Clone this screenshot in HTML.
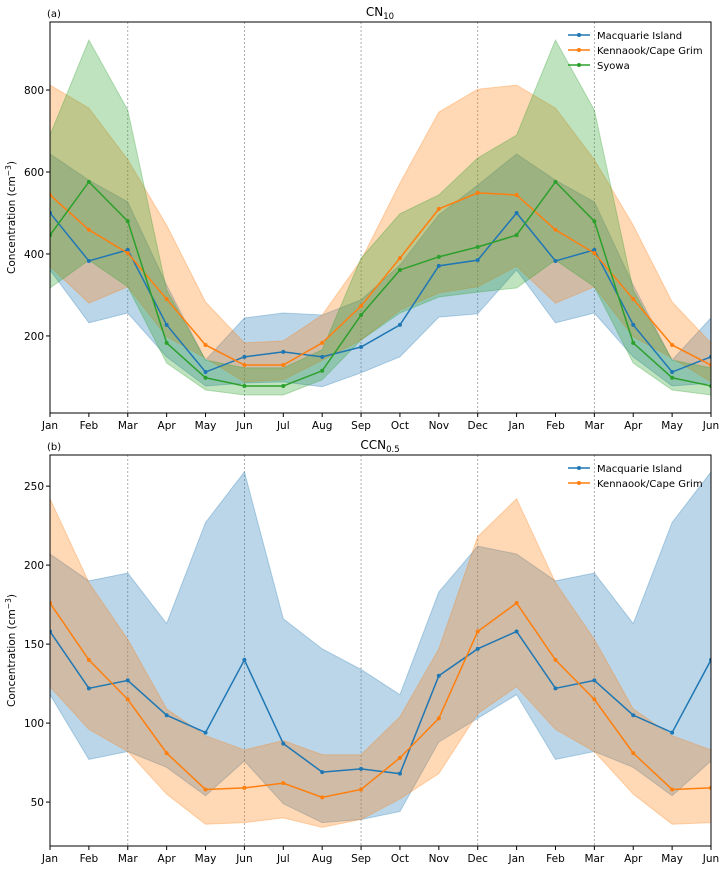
<!DOCTYPE html>
<html><head><meta charset="utf-8"><style>
body{margin:0;background:#fff;}
svg{display:block;font-family:"DejaVu Sans","Liberation Sans",sans-serif;}
</style></head><body>
<svg id="fig" width="724" height="869" viewBox="0 0 724 869" xmlns="http://www.w3.org/2000/svg"></svg>
<script>
const months = ["Jan","Feb","Mar","Apr","May","Jun","Jul","Aug","Sep","Oct","Nov","Dec","Jan","Feb","Mar","Apr","May","Jun"];
// Panel (a) CN10, monthly Jan..Dec
const macCN = [500,383,410,227,112,149,161,149,173,227,371,385];
const macCNlo = [361,232,256,149,78,85,88,76,110,149,246,254];
const macCNhi = [644,580,527,324,141,244,256,251,288,373,495,568];
const kenCN = [544,459,402,290,178,129,129,183,273,390,510,549];
const kenCNlo = [370,280,320,198,146,88,93,141,190,263,305,320];
const kenCNhi = [812,756,630,470,283,183,188,251,385,573,746,802];
const syoCN = [446,576,480,183,98,78,78,115,251,361,393,417];
const syoCNlo = [317,385,320,134,68,56,56,93,190,256,295,307];
const syoCNhi = [690,922,751,312,141,122,122,166,390,498,544,634];
const ticksA = [200,400,600,800];
// Panel (b) CCN0.5
const macCCN = [158,122,127,105,94,140,87,69,71,68,130,147];
const macCCNlo = [118,77,82,72,54,76,49,37,39,44,88,103];
const macCCNhi = [207,190,195,163,227,259,166,147,134,118,183,212];
const kenCCN = [176,140,115,81,58,59,62,53,58,78,103,158];
const kenCCNlo = [123,96,82,55,36,37,40,34,39,52,68,106];
const kenCCNhi = [242,189,153,109,92,83,89,80,80,104,147,218];
const ticksB = [50,100,150,200,250];

const NS="http://www.w3.org/2000/svg";
const svg=document.getElementById('fig');
function mk(tag,attrs,parent){const e=document.createElementNS(NS,tag);for(const k in attrs)e.setAttribute(k,attrs[k]);(parent||svg).appendChild(e);return e;}
const X0=50,X1=711;
function xs(i){return X0+i*(X1-X0)/17;}
function ext(a){const r=a.slice();for(let i=0;i<6;i++)r.push(a[i]);return r;}
const cols=["#1f77b4","#ff7f0e","#2ca02c"];
const defs=mk('defs',{});

function panel(opt){
  const g=mk('g',{});
  
  
  const top=opt.top,bot=opt.bot;
  const ys=v=>bot-(v-opt.vmin)/(opt.vmax-opt.vmin)*(bot-top);
  const cp=mk('clipPath',{id:opt.name+'-clip'},defs);
  mk('rect',{x:X0,y:top-30,width:X1-X0,height:bot-top+30},cp);
  const pg=mk('g',{'clip-path':'url(#'+opt.name+'-clip)'},g);
  
  
  [2,5,8,11,14].forEach(i=>{
    const l=mk('line',{x1:xs(i),x2:xs(i),y1:top,y2:bot,stroke:'#999','stroke-width':0.8,'stroke-dasharray':'2,2'},pg);
    
    
  });
  opt.series.forEach((s,k)=>{
    const lo=ext(s.lo),hi=ext(s.hi);
    let d='';
    hi.forEach((v,i)=>{d+=(i?'L':'M')+xs(i)+','+ys(v);});
    for(let i=lo.length-1;i>=0;i--)d+='L'+xs(i)+','+ys(lo[i]);
    d+='Z';
    const band=mk('path',{d:d,fill:cols[k],'fill-opacity':0.3,stroke:cols[k],'stroke-opacity':0.3,'stroke-width':1},pg);
    
    
  });
  opt.series.forEach((s,k)=>{
    const m=ext(s.mean);
    const pts=m.map((v,i)=>xs(i)+','+ys(v)).join(' ');
    const ln=mk('polyline',{points:pts,fill:'none',stroke:cols[k],'stroke-width':1.5},pg);
    
    
    m.forEach((v,i)=>{
      const c=mk('circle',{cx:xs(i),cy:ys(v),r:2,fill:cols[k]},pg);
      
      
    });
  });
  const fr=mk('rect',{x:X0,y:top,width:X1-X0,height:bot-top,fill:'none',stroke:'#000','stroke-width':1},g);
  
  
  months.forEach((mname,i)=>{
    mk('line',{x1:xs(i),x2:xs(i),y1:bot,y2:bot+4,stroke:'#000'},g);
    const t=mk('text',{x:xs(i),y:bot+16,'font-size':10.5,'text-anchor':'middle'},g);
    t.textContent=mname;
    
    
  });
  opt.ticks.forEach(v=>{
    mk('line',{x1:X0-4,x2:X0,y1:ys(v),y2:ys(v),stroke:'#000'},g);
    const t=mk('text',{x:X0-6,y:ys(v)+4,'font-size':10.5,'text-anchor':'end'},g);
    t.textContent=v;
    
    
  });
  const yl=mk('text',{x:15,y:(top+bot)/2,'font-size':10.5,'text-anchor':'middle',transform:'rotate(-90 15 '+(top+bot)/2+')'},g);
  yl.innerHTML='Concentration (<tspan>cm</tspan><tspan dy="-4" font-size="7.5">−3</tspan><tspan dy="4">)</tspan>';
  
  
  const pl=mk('text',{x:47,y:top-5,'font-size':10},g);
  pl.textContent=opt.letter;
  
  
  const ti=mk('text',{x:380,y:top-6,'font-size':12,'text-anchor':'middle'},g);
  ti.innerHTML=opt.title;
  
  
  opt.series.forEach((s,k)=>{
    const y=top+13+k*15;
    const le=mk('g',{},g);
    
    
    mk('line',{x1:568,x2:590,y1:y,y2:y,stroke:cols[k],'stroke-width':1.5},le);
    mk('circle',{cx:579,cy:y,r:2,fill:cols[k]},le);
    const t=mk('text',{x:597,y:y+4,'font-size':10},le);
    t.textContent=s.label;
  });
}
panel({name:'panel-a-cn10',top:22,bot:413,vmin:12,vmax:966,ticks:ticksA,letter:'(a)',
  title:'CN<tspan dy="3" font-size="8.5">10</tspan>',
  series:[{id:'macquarie',label:'Macquarie Island',mean:macCN,lo:macCNlo,hi:macCNhi},
          {id:'kennaook',label:'Kennaook/Cape Grim',mean:kenCN,lo:kenCNlo,hi:kenCNhi},
          {id:'syowa',label:'Syowa',mean:syoCN,lo:syoCNlo,hi:syoCNhi}]});
panel({name:'panel-b-ccn05',top:455,bot:846,vmin:22.2,vmax:269.7,ticks:ticksB,letter:'(b)',
  title:'CCN<tspan dy="3" font-size="8.5">0.5</tspan>',
  series:[{id:'macquarie',label:'Macquarie Island',mean:macCCN,lo:macCCNlo,hi:macCCNhi},
          {id:'kennaook',label:'Kennaook/Cape Grim',mean:kenCCN,lo:kenCCNlo,hi:kenCCNhi}]});
</script>
</body></html>
